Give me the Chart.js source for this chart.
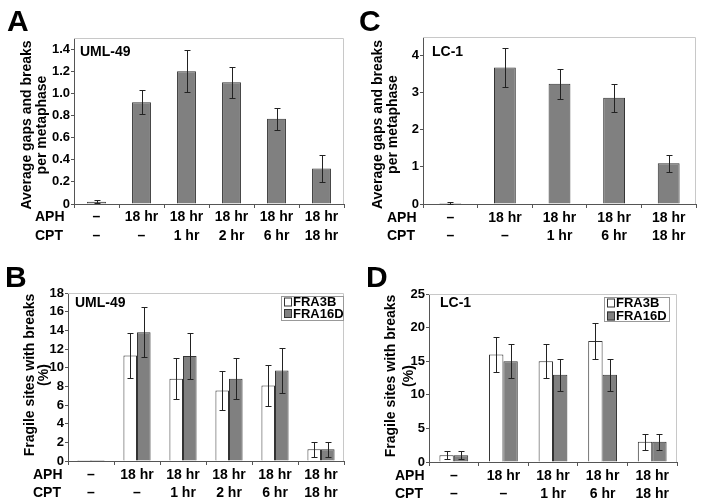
<!DOCTYPE html>
<html><head><meta charset="utf-8">
<script src="https://cdn.jsdelivr.net/npm/chart.js@4"></script>
<style>
body{margin:0;background:#fff;}
#wrap{position:relative;width:704px;height:504px;background:#fff;}
canvas{position:absolute;}
</style></head>
<body><div id="wrap">
<canvas id="cA" width="352" height="250" style="left:0;top:0"></canvas>
<canvas id="cC" width="352" height="250" style="left:352px;top:0"></canvas>
<canvas id="cB" width="352" height="254" style="left:0;top:250px"></canvas>
<canvas id="cD" width="352" height="254" style="left:352px;top:250px"></canvas>
</div>
<script>
// ---------- DATA ----------
const aphA = ['–','18 hr','18 hr','18 hr','18 hr','18 hr'];
const cptA = ['–','–','1 hr','2 hr','6 hr','18 hr'];
const valA = [0.02, 0.92, 1.20, 1.10, 0.77, 0.32];
const errA = [0.015, 0.11, 0.19, 0.14, 0.10, 0.125];
const ticksA = [0, 0.2, 0.4, 0.6, 0.8, 1.0, 1.2, 1.4];

const aphC = ['–','18 hr','18 hr','18 hr','18 hr'];
const cptC = ['–','–','1 hr','6 hr','18 hr'];
const valC = [0.03, 3.68, 3.24, 2.86, 1.10];
const errC = [0.02, 0.52, 0.40, 0.37, 0.23];
const ticksC = [0, 1, 2, 3, 4];

const aphB = ['–','18 hr','18 hr','18 hr','18 hr','18 hr'];
const cptB = ['–','–','1 hr','2 hr','6 hr','18 hr'];
const fra3bB = [0.1, 11.3, 8.8, 7.55, 8.1, 1.25];
const fra3bErrB = [0, 2.4, 2.2, 2.05, 2.2, 0.82];
const fra16dB = [0.1, 13.8, 11.25, 8.8, 9.7, 1.25];
const fra16dErrB = [0, 2.65, 2.45, 2.2, 2.4, 0.82];
const ticksB = [0, 2, 4, 6, 8, 10, 12, 14, 16, 18];

const aphD = ['–','18 hr','18 hr','18 hr','18 hr'];
const cptD = ['–','–','1 hr','6 hr','18 hr'];
const fra3bD = [1, 16, 15, 18, 3];
const fra3bErrD = [0.6, 2.6, 2.5, 2.7, 1.2];
const fra16dD = [1, 15, 13, 13, 3];
const fra16dErrD = [0.6, 2.5, 2.4, 2.4, 1.2];
const ticksD = [0, 5, 10, 15, 20, 25];

const seriesNames = ['FRA3B', 'FRA16D'];
// ---------------------------

const FONT = '"Liberation Sans", Arial, Helvetica, sans-serif';
Chart.defaults.font.family = FONT;
Chart.defaults.font.weight = 'bold';
Chart.defaults.color = '#000';

const GRAY = '#808080';
const EDGE = '#333';
const AXIS = '#555';

const deco = {
  id: 'deco',
  beforeDatasetsDraw(chart) {
    const {ctx, chartArea: a} = chart;
    ctx.save();
    ctx.strokeStyle = '#c8c8c8';
    ctx.lineWidth = 1;
    ctx.beginPath();
    ctx.moveTo(a.left, Math.round(a.top) + 0.5);
    ctx.lineTo(Math.round(a.right) - 0.5, Math.round(a.top) + 0.5);
    ctx.lineTo(Math.round(a.right) - 0.5, a.bottom);
    ctx.stroke();
    ctx.restore();
  },
  afterDatasetsDraw(chart) {
    const {ctx} = chart;
    const ys = chart.scales.y;
    ctx.save();
    ctx.strokeStyle = '#222';
    ctx.lineWidth = 1;
    chart.data.datasets.forEach((ds, di) => {
      const meta = chart.getDatasetMeta(di);
      (ds.errors || []).forEach((e, i) => {
        if (!e) return;
        const el = meta.data[i];
        const v = ds.data[i];
        const x = Math.round(el.x) + 0.5;
        const y1 = Math.round(ys.getPixelForValue(v + e)) + 0.5;
        const y2 = Math.round(ys.getPixelForValue(Math.max(v - e, 0))) + 0.5;
        ctx.beginPath();
        ctx.moveTo(x, y1); ctx.lineTo(x, y2);
        ctx.moveTo(x - 3, y1); ctx.lineTo(x + 3, y1);
        ctx.moveTo(x - 3, y2); ctx.lineTo(x + 3, y2);
        ctx.stroke();
      });
    });
    ctx.restore();
  },
  afterDraw(chart, args, o) {
    const {ctx, chartArea: a} = chart;
    ctx.save();
    ctx.fillStyle = '#000';
    ctx.textBaseline = 'alphabetic';
    ctx.textAlign = 'left';
    ctx.font = 'bold 30px ' + FONT;
    ctx.fillText(o.letter, o.letterX, o.letterY);
    ctx.font = 'bold 14px ' + FONT;
    ctx.textBaseline = 'middle';
    ctx.fillText(o.cell, o.cellX, o.cellY);
    ctx.fillText('APH', o.rowX, o.rowY1);
    ctx.fillText('CPT', o.rowX, o.rowY2);
    // rotated y-axis title
    const cy = (a.top + a.bottom) / 2 + o.titleDy;
    ctx.textAlign = 'center';
    o.title.forEach((t, i) => {
      ctx.save();
      ctx.translate(o.titleX[i], cy);
      ctx.rotate(-Math.PI / 2);
      ctx.fillText(t, 0, 0);
      ctx.restore();
    });
    ctx.textAlign = 'left';
    if (o.legend) {
      const L = o.legend;
      ctx.fillStyle = '#fff';
      ctx.strokeStyle = '#999';
      ctx.lineWidth = 1;
      ctx.fillRect(L.x, L.y, L.w, L.h);
      ctx.strokeRect(L.x + 0.5, L.y + 0.5, L.w - 1, L.h - 1);
      ctx.font = 'bold 13px ' + FONT;
      chart.data.datasets.forEach((ds, i) => {
        const ry = L.y + L.row0 + i * L.rowGap;
        ctx.fillStyle = ds.backgroundColor;
        ctx.fillRect(L.x + 3, ry - 4.5, 8, 9);
        ctx.strokeStyle = EDGE;
        ctx.strokeRect(L.x + 3.5, ry - 4, 7, 8);
        ctx.fillStyle = '#000';
        ctx.fillText(ds.label, L.x + 12, ry + 0.5);
      });
    }
    ctx.restore();
  }
};

function makeChart(id, g) {
  const labels = g.aph.map((a, i) => [a, g.cpt[i]]);
  const tl = 4;
  return new Chart(document.getElementById(id), {
    type: 'bar',
    data: { labels, datasets: g.datasets },
    plugins: [deco],
    options: {
      responsive: false,
      animation: false,
      devicePixelRatio: 1,
      layout: { padding: { left: 0, top: g.top, right: g.padRight, bottom: 0 } },
      datasets: { bar: { categoryPercentage: g.catPct, barPercentage: 1 } },
      plugins: {
        legend: { display: false },
        tooltip: { enabled: false },
        deco: Object.assign({
          rowY1: g.bottom + tl + g.xPad + g.xLh / 2,
          rowY2: g.bottom + tl + g.xPad + g.xLh * 1.5,
          title: g.title, titleX: g.titleX, titleDy: g.titleDy || 0
        }, g.deco)
      },
      scales: {
        x: {
          grid: { offset: true, drawOnChartArea: false, drawTicks: true, tickLength: tl, color: AXIS },
          border: { display: true, color: AXIS },
          ticks: { font: { size: 14, weight: 'bold', lineHeight: g.xLh / 14 }, padding: g.xPad, maxRotation: 0, autoSkip: false, color: '#000' },
          afterFit: s => { s.height = g.canvasH - g.bottom; s.paddingLeft = 0; s.paddingRight = 0; }
        },
        y: {
          min: 0, max: g.max,
          afterBuildTicks: s => { s.ticks = g.ticks.map(v => ({ value: v })); },
          grid: { drawOnChartArea: false, drawTicks: true, tickLength: 3, color: AXIS },
          border: { display: true, color: AXIS },
          ticks: { font: { size: 13, weight: 'bold' }, padding: 1, color: '#000', callback: g.fmt },
          afterFit: s => { s.width = g.axisX; s.paddingTop = 0; s.paddingBottom = 0; }
        }
      }
    }
  });
}

makeChart('cA', {
  aph: aphA, cpt: cptA, canvasH: 250, top: 38, bottom: 204, axisX: 74, padRight: 8,
  catPct: 0.42, xLh: 19, xPad: 0, max: 1.5, ticks: ticksA,
  fmt: v => v === 0 ? '0' : v.toFixed(1),
  title: ['Average gaps and breaks', 'per metaphase'], titleX: [27, 42], titleDy: 4,
  datasets: [{ data: valA, errors: errA, backgroundColor: GRAY, borderColor: EDGE, borderWidth: 1 }],
  deco: { letter: 'A', letterX: 7, letterY: 31, cell: 'UML-49', cellX: 80, cellY: 52, rowX: 35 }
});

makeChart('cC', {
  aph: aphC, cpt: cptC, canvasH: 250, top: 37, bottom: 204, axisX: 71, padRight: 8,
  catPct: 0.40, xLh: 18, xPad: 1, max: 4.5, ticks: ticksC,
  fmt: v => String(v),
  title: ['Average gaps and breaks', 'per metaphase'], titleX: [26, 41], titleDy: 4,
  datasets: [{ data: valC, errors: errC, backgroundColor: GRAY, borderColor: EDGE, borderWidth: 1 }],
  deco: { letter: 'C', letterX: 7, letterY: 31, cell: 'LC-1', cellX: 80, cellY: 52, rowX: 35 }
});

makeChart('cB', {
  aph: aphB, cpt: cptB, canvasH: 254, top: 43, bottom: 211, axisX: 68, padRight: 8,
  catPct: 0.59, xLh: 18, xPad: 1, max: 18, ticks: ticksB,
  fmt: v => String(v),
  title: ['Fragile sites with breaks', '(%)'], titleX: [30, 44], titleDy: -2,
  datasets: [
    { label: seriesNames[0], data: fra3bB, errors: fra3bErrB, backgroundColor: '#ffffff', borderColor: EDGE, borderWidth: 1 },
    { label: seriesNames[1], data: fra16dB, errors: fra16dErrB, backgroundColor: GRAY, borderColor: EDGE, borderWidth: 1 }
  ],
  deco: { letter: 'B', letterX: 5, letterY: 37, cell: 'UML-49', cellX: 75, cellY: 53, rowX: 33,
          legend: { x: 281, y: 46, w: 63, h: 25, row0: 6, rowGap: 11.5 } }
});

makeChart('cD', {
  aph: aphD, cpt: cptD, canvasH: 254, top: 44, bottom: 212, axisX: 77, padRight: 27,
  catPct: 0.58, xLh: 18, xPad: 1, max: 25, ticks: ticksD,
  fmt: v => String(v),
  title: ['Fragile sites with breaks', '(%)'], titleX: [39, 57], titleDy: -2,
  datasets: [
    { label: seriesNames[0], data: fra3bD, errors: fra3bErrD, backgroundColor: '#ffffff', borderColor: EDGE, borderWidth: 1 },
    { label: seriesNames[1], data: fra16dD, errors: fra16dErrD, backgroundColor: GRAY, borderColor: EDGE, borderWidth: 1 }
  ],
  deco: { letter: 'D', letterX: 14, letterY: 37, cell: 'LC-1', cellX: 88, cellY: 53, rowX: 43,
          legend: { x: 252, y: 47, w: 66, h: 25, row0: 6, rowGap: 13 } }
});
</script>
</body></html>
